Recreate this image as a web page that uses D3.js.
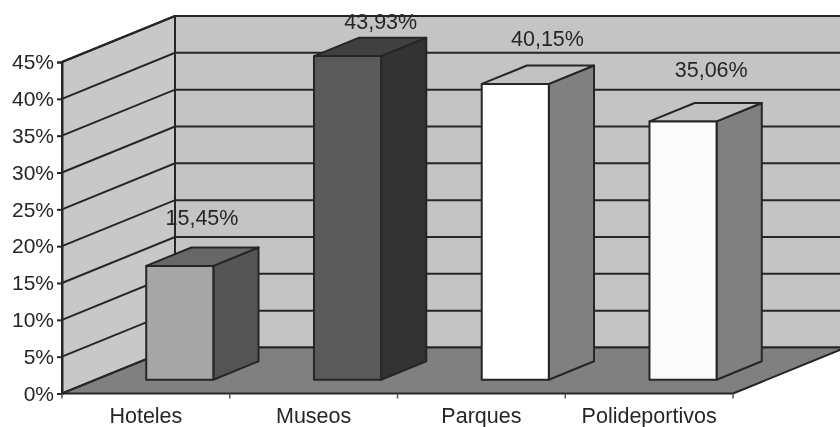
<!DOCTYPE html>
<html><head><meta charset="utf-8">
<script src="https://d3js.org/d3.v7.min.js"></script>
<style>
html,body{margin:0;padding:0;background:#fff;overflow:hidden}
svg{display:block;filter:blur(0.45px)}
text{font-family:"Liberation Sans",Arial,sans-serif;fill:#262626}
</style></head><body><svg id="c" width="840" height="427"></svg>
<script>
const categories=["Hoteles","Museos","Parques","Polideportivos"];
const values=[15.45,43.93,40.15,35.06];
const valueLabels=["15,45%","43,93%","40,15%","35,06%"];
const yTicks=[0,5,10,15,20,25,30,35,40,45];
const frontFill=["#a6a6a6","#5a5a5a","#ffffff","#fbfbfb"];
const sideFill=["#545454","#333333","#808080","#808080"];
const topFill=["#676767","#404040","#c2c2c2","#c2c2c2"];

const W=840,H=427;
const svg=d3.select("#c");
const m={left:62,right:733,bottom:393.5,top:62};
const depth={dx:113,dy:-46};
const x=d3.scaleBand().domain(categories).range([m.left,m.right]).paddingInner(0).paddingOuter(0);
const y=d3.scaleLinear().domain([0,45]).range([m.bottom,m.top]);
const ink="#262626";
const pts=a=>a.map(p=>p.join(",")).join(" ");
const poly=(a,f,sw=2)=>svg.append("polygon").attr("points",pts(a)).attr("fill",f).attr("stroke",ink).attr("stroke-width",sw).attr("stroke-linejoin","round");

// walls
const yMax=45;
poly([[m.left+depth.dx,y(0)+depth.dy],[m.right+depth.dx,y(0)+depth.dy],[m.right+depth.dx,y(yMax)+depth.dy],[m.left+depth.dx,y(yMax)+depth.dy]],"#c4c4c4");
poly([[m.left,y(0)],[m.left+depth.dx,y(0)+depth.dy],[m.left+depth.dx,y(yMax)+depth.dy],[m.left,y(yMax)]],"#c8c8c8");
// grid
yTicks.forEach(t=>{
  if(t>0)svg.append("path").attr("d",d3.line()([[m.left,y(t)],[m.left+depth.dx,y(t)+depth.dy],[m.right+depth.dx,y(t)+depth.dy]]))
    .attr("fill","none").attr("stroke",ink).attr("stroke-width",2);
});
// floor
poly([[m.left,y(0)],[m.right,y(0)],[m.right+depth.dx,y(0)+depth.dy],[m.left+depth.dx,y(0)+depth.dy]],"#808080");

// axes
const axisY=d3.axisLeft(y).tickValues(yTicks).tickFormat(d=>d+"%").tickSize(5).tickPadding(3);
const gy=svg.append("g").attr("transform",`translate(${m.left},0)`).call(axisY);
const axisX=d3.axisBottom(x).tickSize(0).tickPadding(14);
const gx=svg.append("g").attr("transform",`translate(0,${m.bottom})`).call(axisX);
gy.select(".domain").attr("stroke",ink).attr("stroke-width",2);
gx.select(".domain").remove();
gy.selectAll("line").attr("stroke",ink).attr("stroke-width",2);
[...categories.map(c=>x(c)),m.right].forEach(px=>svg.append("line").attr("x1",px).attr("x2",px).attr("y1",m.bottom).attr("y2",m.bottom+5).attr("stroke","#555").attr("stroke-width",1.5));
gy.selectAll("text").style("font-size","21px").style("font-family",'"Liberation Sans"').attr("fill","#262626");
gx.selectAll("text").style("font-size","21.5px").style("font-family",'"Liberation Sans"').attr("fill","#262626");

// bars
const barW=x.bandwidth()/2.5, f0=0.3, f1=0.7;
categories.forEach((c,i)=>{
  const cx=x(c)+x.bandwidth()/2;
  const x0=cx-barW/2+depth.dx*f0, x1=x0+barW;
  const base=y(0)+depth.dy*f0, yTop=base-(y(0)-y(values[i]));
  const ddx=depth.dx*(f1-f0), ddy=depth.dy*(f1-f0);
  poly([[x1,base],[x1+ddx,base+ddy],[x1+ddx,yTop+ddy],[x1,yTop]],sideFill[i]);
  poly([[x0,yTop],[x1,yTop],[x1+ddx,yTop+ddy],[x0+ddx,yTop+ddy]],topFill[i]);
  poly([[x0,base],[x1,base],[x1,yTop],[x0,yTop]],frontFill[i]);
});

// value labels
svg.append("clipPath").attr("id","lab").append("rect").attr("x",0).attr("y",13).attr("width",W).attr("height",H);
const labelRise=[29,16,27,33], labelShift=[-23,-12,-13,-17];
categories.forEach((c,i)=>{
  const cx=x(c)+x.bandwidth()/2;
  const topBack=y(0)+depth.dy*f1-(y(0)-y(values[i]));
  svg.append("text").attr("clip-path","url(#lab)")
    .attr("x",cx+depth.dx*f1+labelShift[i]).attr("y",topBack-labelRise[i]+7)
    .attr("text-anchor","middle").style("font-size","21.5px").text(valueLabels[i]);
});
</script></body></html>
